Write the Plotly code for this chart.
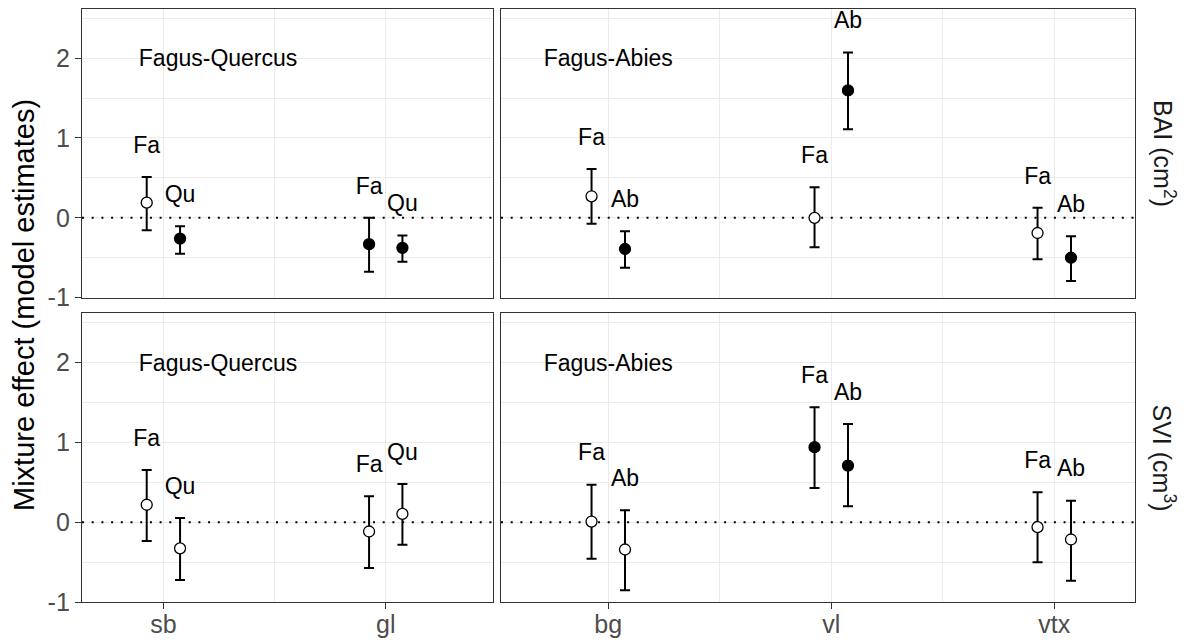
import plotly.graph_objects as go

# ---------------- data ----------------
fq_sites = ["sb", "gl"]            # Fagus-Quercus sites
fa_sites = ["bg", "vl", "vtx"]     # Fagus-Abies sites
fq_species = ["Fa", "Qu"]
fa_species = ["Fa", "Ab"]
responses = ["BAI (cm<sup>2</sup>)", "SVI (cm<sup>3</sup>)"]
mix_labels = ["Fagus-Quercus", "Fagus-Abies"]
y_tickvals = [-1, 0, 1, 2]
y_ticktext = ["-1", "0", "1", "2"]

# BAI, Fagus-Quercus
bai_fq_fa_est = [0.19, -0.33]
bai_fq_fa_lo = [-0.155, -0.675]
bai_fq_fa_hi = [0.51, 0.0]
bai_fq_fa_sig = [False, True]
bai_fq_qu_est = [-0.26, -0.375]
bai_fq_qu_lo = [-0.45, -0.55]
bai_fq_qu_hi = [-0.105, -0.22]
bai_fq_qu_sig = [True, True]

# BAI, Fagus-Abies
bai_fa_fa_est = [0.27, 0.0, -0.19]
bai_fa_fa_lo = [-0.075, -0.367, -0.52]
bai_fa_fa_hi = [0.61, 0.383, 0.125]
bai_fa_fa_sig = [False, False, False]
bai_fa_ab_est = [-0.39, 1.595, -0.5]
bai_fa_ab_lo = [-0.625, 1.11, -0.79]
bai_fa_ab_hi = [-0.167, 2.07, -0.23]
bai_fa_ab_sig = [True, True, True]

# SVI, Fagus-Quercus
svi_fq_fa_est = [0.22, -0.115]
svi_fq_fa_lo = [-0.235, -0.57]
svi_fq_fa_hi = [0.655, 0.325]
svi_fq_fa_sig = [False, False]
svi_fq_qu_est = [-0.325, 0.105]
svi_fq_qu_lo = [-0.72, -0.28]
svi_fq_qu_hi = [0.055, 0.48]
svi_fq_qu_sig = [False, False]

# SVI, Fagus-Abies
svi_fa_fa_est = [0.01, 0.94, -0.06]
svi_fa_fa_lo = [-0.455, 0.43, -0.5]
svi_fa_fa_hi = [0.47, 1.44, 0.375]
svi_fa_fa_sig = [False, True, False]
svi_fa_ab_est = [-0.34, 0.71, -0.215]
svi_fa_ab_lo = [-0.85, 0.2, -0.73]
svi_fa_ab_hi = [0.15, 1.23, 0.27]
svi_fa_ab_sig = [False, True, False]

# ---------------- layout helpers ----------------
PAGE_OFF = 8                      # default body margin of the html page
W, H = 1189 - PAGE_OFF, 643 - PAGE_OFF
FONT = "Arial, Liberation Sans, sans-serif"
DODGE = 0.075
LABEL_OFF = 0.375
Y_RANGE = [-1.0, 2.62]

def fx(p):
    return (p - PAGE_OFF) / W

def fy(p):
    return 1 - (p - PAGE_OFF) / H

panels = [
    dict(ax="", sites=fq_sites, species=fq_species,
         series=[(bai_fq_fa_est, bai_fq_fa_lo, bai_fq_fa_hi, bai_fq_fa_sig),
                 (bai_fq_qu_est, bai_fq_qu_lo, bai_fq_qu_hi, bai_fq_qu_sig)],
         xd=(82, 492.7), yd=(8.6, 297.7), xr=(0.634, 2.481), mix=mix_labels[0], mixx=1.246,
         bottom=False, left=True),
    dict(ax="2", sites=fa_sites, species=fa_species,
         series=[(bai_fa_fa_est, bai_fa_fa_lo, bai_fa_fa_hi, bai_fa_fa_sig),
                 (bai_fa_ab_est, bai_fa_ab_lo, bai_fa_ab_hi, bai_fa_ab_sig)],
         xd=(501, 1135), yd=(8.6, 297.7), xr=(0.519, 3.362), mix=mix_labels[1], mixx=1.0,
         bottom=False, left=False),
    dict(ax="3", sites=fq_sites, species=fq_species,
         series=[(svi_fq_fa_est, svi_fq_fa_lo, svi_fq_fa_hi, svi_fq_fa_sig),
                 (svi_fq_qu_est, svi_fq_qu_lo, svi_fq_qu_hi, svi_fq_qu_sig)],
         xd=(82, 492.7), yd=(312.8, 602.3), xr=(0.634, 2.481), mix=mix_labels[0], mixx=1.246,
         bottom=True, left=True),
    dict(ax="4", sites=fa_sites, species=fa_species,
         series=[(svi_fa_fa_est, svi_fa_fa_lo, svi_fa_fa_hi, svi_fa_fa_sig),
                 (svi_fa_ab_est, svi_fa_ab_lo, svi_fa_ab_hi, svi_fa_ab_sig)],
         xd=(501, 1135), yd=(312.8, 602.3), xr=(0.519, 3.362), mix=mix_labels[1], mixx=1.0,
         bottom=True, left=False),
]

fig = go.Figure()
layout = dict(
    width=W, height=H, margin=dict(l=0, r=0, t=0, b=0, autoexpand=False),
    paper_bgcolor="white", plot_bgcolor="white", showlegend=False,
    font=dict(family=FONT, color="black"),
)
annotations = []

for p in panels:
    a = p["ax"]
    xref = "x" + a
    yref = "y" + a
    n = len(p["sites"])
    # dotted zero reference line across the panel
    fig.add_trace(go.Scatter(
        x=list(p["xr"]), y=[0, 0], mode="lines", xaxis=xref, yaxis=yref,
        line=dict(color="black", width=2, dash="2px,7.7px"), hoverinfo="skip",
    ))
    for si, (est, lo, hi, sig) in enumerate(p["series"]):
        off = -DODGE if si == 0 else DODGE
        xs = [i + 1 + off for i in range(n)]
        fig.add_trace(go.Scatter(
            x=xs, y=est, mode="markers", xaxis=xref, yaxis=yref,
            marker=dict(size=11, symbol="circle",
                        color=["black" if s else "white" for s in sig],
                        line=dict(color="black", width=1.3)),
            error_y=dict(type="data", symmetric=False,
                         array=[h - e for h, e in zip(hi, est)],
                         arrayminus=[e - l for e, l in zip(est, lo)],
                         color="black", thickness=2, width=5),
            hoverinfo="skip",
        ))
        fig.add_trace(go.Scatter(
            x=xs, y=[h + LABEL_OFF for h in hi], mode="text",
            text=[p["species"][si]] * n, textposition="middle center",
            textfont=dict(family=FONT, size=23, color="black"),
            xaxis=xref, yaxis=yref, hoverinfo="skip",
        ))
    fig.add_trace(go.Scatter(
        x=[p["mixx"]], y=[1.97], mode="text", text=[p["mix"]],
        textposition="middle center",
        textfont=dict(family=FONT, size=23, color="black"),
        xaxis=xref, yaxis=yref, hoverinfo="skip",
    ))

    layout["xaxis" + a] = dict(
        domain=[fx(p["xd"][0]), fx(p["xd"][1])], range=list(p["xr"]),
        anchor=yref, tickmode="array", tickvals=list(range(1, n + 1)),
        ticktext=p["sites"], showticklabels=p["bottom"],
        ticks="outside" if p["bottom"] else "", ticklen=6, tickwidth=1.3, tickcolor="#333333",
        ticklabelstandoff=-6,
        tickfont=dict(family=FONT, size=25, color="#4d4d4d"),
        showgrid=True, gridcolor="#ebebeb", gridwidth=1.3,
        minor=dict(tickmode="array", tickvals=[1.5, 2.5], showgrid=True,
                   gridcolor="#ebebeb", gridwidth=0.7, ticks=""),
        showline=True, mirror=True, linecolor="#333333", linewidth=1.3,
        zeroline=False, fixedrange=True, automargin=False,
    )
    layout["yaxis" + a] = dict(
        domain=[fy(p["yd"][1]), fy(p["yd"][0])], range=Y_RANGE,
        anchor=xref, tickmode="array", tickvals=y_tickvals, ticktext=y_ticktext,
        showticklabels=p["left"],
        ticks="outside" if p["left"] else "", ticklen=6, tickwidth=1.3, tickcolor="#333333",
        tickfont=dict(family=FONT, size=25, color="#4d4d4d"),
        showgrid=True, gridcolor="#ebebeb", gridwidth=1.3,
        minor=dict(tickmode="array", tickvals=[-0.5, 0.5, 1.5, 2.5], showgrid=True,
                   gridcolor="#ebebeb", gridwidth=0.7, ticks=""),
        showline=True, mirror=True, linecolor="#333333", linewidth=1.3,
        zeroline=False, fixedrange=True, automargin=False,
    )

annotations.append(dict(
    text="Mixture effect (model estimates)", xref="paper", yref="paper",
    x=fx(24), y=fy(305), showarrow=False, textangle=-90,
    xanchor="center", yanchor="middle",
    font=dict(family=FONT, size=29, color="black"),
))
for r, yc in zip(responses, [153, 457.5]):
    annotations.append(dict(
        text=r, xref="paper", yref="paper", x=fx(1164), y=fy(yc),
        showarrow=False, textangle=90, xanchor="center", yanchor="middle",
        font=dict(family=FONT, size=25, color="#1a1a1a"),
    ))

layout["annotations"] = annotations
fig.update_layout(**layout)
fig.write_html("out.html")
